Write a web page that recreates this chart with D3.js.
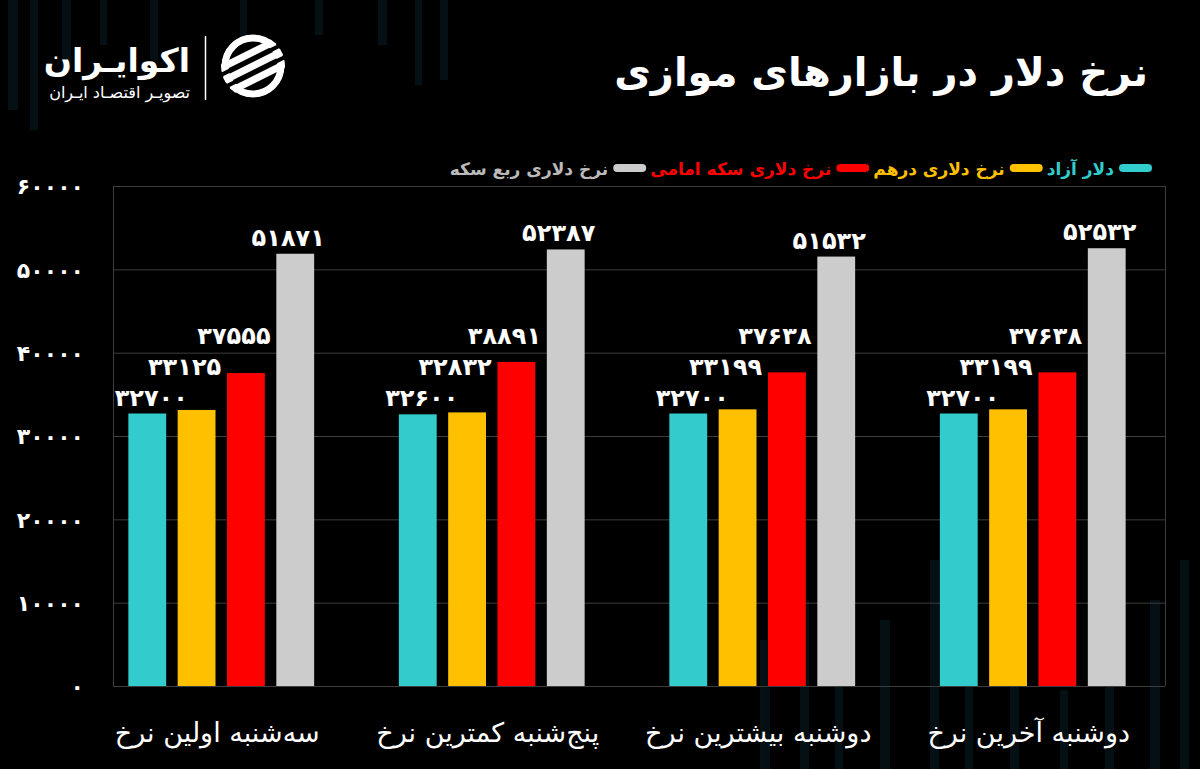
<!DOCTYPE html>
<html><head><meta charset="utf-8">
<script src="https://cdn.jsdelivr.net/npm/d3@7"></script>
<style>
html,body{margin:0;padding:0;background:#000;}
svg{display:block;}
text{font-family:"DejaVu Sans","Noto Sans",sans-serif;}
</style></head>
<body>
<svg id="chart" width="1200" height="769"></svg>
<script>
// ---- data ----
const categories = ["سه‌شنبه اولین نرخ", "پنج‌شنبه کمترین نرخ", "دوشنبه بیشترین نرخ", "دوشنبه آخرین نرخ"];
const seriesNames = ["دلار آزاد", "نرخ دلاری درهم", "نرخ دلاری سکه امامی", "نرخ دلاری ربع سکه"];
const dollarAzad = [32700, 32600, 32700, 32700];
const dollarDerham = [33125, 32832, 33199, 33199];
const dollarEmami = [37555, 38891, 37638, 37638];
const dollarRob = [51871, 52387, 51532, 52532];
const yTicks = [0, 10000, 20000, 30000, 40000, 50000, 60000];
const title = "نرخ دلار در بازارهای موازی";

// ---- style ----
const colors = ["#33CCCC", "#FFC000", "#FF0000", "#CCCCCC"];
const seriesValues = [dollarAzad, dollarDerham, dollarEmami, dollarRob];
const faDigits = "۰۱۲۳۴۵۶۷۸۹";
const toFa = n => String(n).replace(/\d/g, d => faDigits[+d]);

const svg = d3.select("#chart");
svg.append("rect").attr("width", 1200).attr("height", 769).attr("fill", "#000");

// decorative background stripes
const deco = svg.append("g").attr("opacity", 0.4);
[[8,0,10,110],[30,0,8,130],[62,0,9,70],[100,0,7,45],[150,0,8,60],[240,0,7,40],[315,0,8,35],[378,0,9,45],[415,0,7,85],[440,0,8,80],
 [760,640,10,129],[800,600,9,169],[835,660,8,109],[880,620,10,149],[930,560,9,209],[965,640,8,129],[1010,600,9,169],[1060,690,8,79],[1105,650,9,119],[1150,600,10,169],[1180,560,9,209]]
 .forEach(d => deco.append("rect").attr("x", d[0]).attr("y", d[1]).attr("width", d[2]).attr("height", d[3]).attr("fill", "#0c2a33"));

const plot = {left: 113, right: 1165, top: 186, bottom: 686};
const x0 = d3.scaleBand().domain(categories).range([86, 1168]);
const x1 = d3.scaleBand().domain(d3.range(seriesNames.length)).range([-92.9, 92.9]).paddingInner(0.233);
const y = d3.scaleLinear().domain([0, 60000]).range([plot.bottom, plot.top]);

// gridlines
svg.append("g").selectAll("line").data(yTicks).join("line")
  .attr("x1", plot.left).attr("x2", plot.right)
  .attr("y1", d => y(d) + 0.5).attr("y2", d => y(d) + 0.5)
  .attr("stroke", "#3d3d3d").attr("stroke-width", 1);
svg.append("line").attr("x1", plot.left + 0.5).attr("x2", plot.left + 0.5).attr("y1", plot.top).attr("y2", plot.bottom).attr("stroke", "#3d3d3d");
svg.append("line").attr("x1", plot.right + 0.5).attr("x2", plot.right + 0.5).attr("y1", plot.top).attr("y2", plot.bottom).attr("stroke", "#3d3d3d");

// y axis via d3.axisLeft
const yAxis = svg.append("g").attr("transform", "translate(84,0)")
  .call(d3.axisLeft(y).tickValues(yTicks).tickSize(0).tickPadding(0).tickFormat(toFa));
yAxis.select(".domain").remove();
yAxis.selectAll("text").attr("fill", "#fff").attr("font-size", 22).attr("font-weight", "bold").attr("dy", "0.35em");

// bars
const groups = svg.append("g").selectAll("g").data(categories).join("g")
  .attr("transform", c => `translate(${x0(c) + x0.bandwidth() / 2},0)`);
groups.each(function(c, ci) {
  const g = d3.select(this);
  let prevTop = Infinity;
  seriesValues.forEach((arr, si) => {
    const v = arr[ci];
    g.append("rect").attr("x", x1(si)).attr("width", x1.bandwidth())
      .attr("y", y(v)).attr("height", y(0) - y(v)).attr("fill", colors[si]);
    let base = y(v) - 8;
    if (base > prevTop - 14) base = prevTop - 14;
    prevTop = base - 17;
    const off = [4, -12, -12, -7][si];
    g.append("text").attr("x", x1(si) + x1.bandwidth() / 2 + off).attr("y", base)
      .attr("text-anchor", "middle").attr("fill", "#fff")
      .attr("font-size", 24).attr("font-weight", "bold")
      .text(toFa(v));
  });
});

// category labels
svg.append("g").selectAll("text").data(categories).join("text")
  .attr("x", c => x0(c) + x0.bandwidth() / 2 - 4).attr("y", 742)
  .attr("text-anchor", "middle").attr("fill", "#fff").attr("font-size", 27)
  .text(d => d);

// legend (right to left)
const legend = svg.append("g");
let lx = 1152;
seriesNames.forEach((name, i) => {
  legend.append("rect").attr("x", lx - 33).attr("y", 164).attr("width", 33).attr("height", 8)
    .attr("rx", 4).attr("fill", colors[i]);
  lx -= 38;
  const t = legend.append("text").attr("x", lx).attr("y", 175).attr("text-anchor", "end")
    .attr("fill", colors[i] === "#CCCCCC" ? "#BBBBBB" : colors[i]).attr("font-size", 17).attr("font-weight", "bold").text(name);
  lx -= t.node().getComputedTextLength() + 4;
});

// title
svg.append("text").attr("x", 1148).attr("y", 86).attr("text-anchor", "end")
  .attr("fill", "#fff").attr("font-size", 40).attr("font-weight", "bold").text(title);

// logo
svg.append("text").attr("x", 190).attr("y", 72).attr("text-anchor", "end")
  .attr("fill", "#fff").attr("font-size", 33).attr("font-weight", "bold").text("اکوایـران");
svg.append("text").attr("x", 190).attr("y", 98).attr("text-anchor", "end")
  .attr("fill", "#fff").attr("font-size", 16).text("تصویـر اقتصـاد ایـران");
svg.append("line").attr("x1", 205.5).attr("x2", 205.5).attr("y1", 36).attr("y2", 100).attr("stroke", "#fff").attr("stroke-width", 1.5);
svg.append("clipPath").attr("id", "iconClip").append("circle").attr("r", 32).attr("cx", 253).attr("cy", 66);
const ic = svg.append("g").attr("clip-path", "url(#iconClip)");
ic.append("circle").attr("cx", 253).attr("cy", 66).attr("r", 28).attr("fill", "none").attr("stroke", "#fff").attr("stroke-width", 7);
[-14, 0, 14].forEach(o => {
  ic.append("line").attr("x1", 253 - 40).attr("y1", 66 + o + 20).attr("x2", 253 + 40).attr("y2", 66 + o - 20)
    .attr("stroke", "#fff").attr("stroke-width", 7);
});
[-7, 7].forEach(o => {
  ic.append("line").attr("x1", 253 - 40).attr("y1", 66 + o + 20).attr("x2", 253 + 40).attr("y2", 66 + o - 20)
    .attr("stroke", "#000").attr("stroke-width", 4);
});
</script>
</body></html>
